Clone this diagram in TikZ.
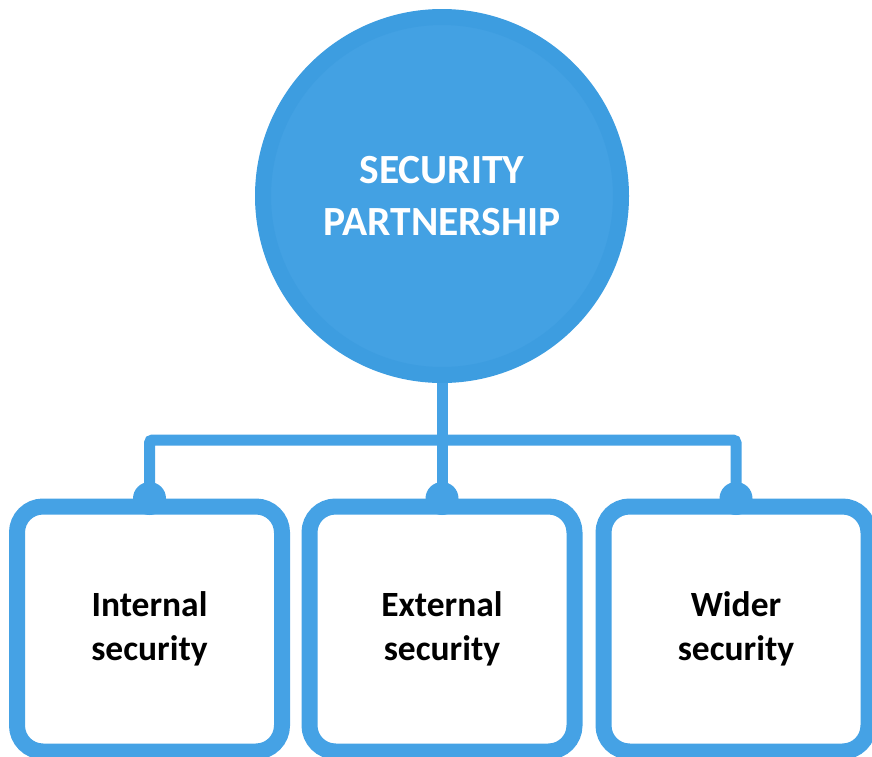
\documentclass[tikz,border=0pt]{standalone}
\usepackage{fontspec}
\setmainfont{Carlito}
\definecolor{hubfill}{RGB}{67,161,227}
\definecolor{hubring}{RGB}{61,157,224}
\definecolor{linkblue}{RGB}{69,162,229}
\tikzset{
 hubcircle/.style={circle,fill=hubfill,draw=hubring,line width=16pt,minimum size=358pt,inner sep=0pt,
  text=white,font=\fontsize{41.5}{52}\selectfont\bfseries,align=center},
 partbox/.style={rectangle,rounded corners=26pt,draw=linkblue,fill=white,line width=16pt,
  minimum width=265pt,minimum height=245pt,inner sep=0pt,font=\fontsize{35.5}{44}\selectfont\bfseries,align=center},
 link/.style={draw=linkblue,line width=11pt,rounded corners=3pt}
}
\begin{document}
\begin{tikzpicture}[x=1pt,y=-1pt]
 \useasboundingbox (0,0) rectangle (872,756);
 \node[hubcircle] (hub) at (442,196) {SECURITY\\PARTNERSHIP};
 \node[partbox] (internal) at (149.5,629) {Internal\\security};
 \node[partbox] (external) at (442,629) {External\\security};
 \node[partbox] (wider) at (736,629) {Wider\\security};
 \coordinate (bar) at (0,440);
 \draw[link] (internal.north) -- (internal.north |- bar) -- (wider.north |- bar) -- (wider.north);
 \draw[link] (hub.south) -- (external.north);
 \foreach \b in {internal,external,wider}
  \fill[linkblue] (\b.north) circle (16.5pt);
\end{tikzpicture}
\end{document}
